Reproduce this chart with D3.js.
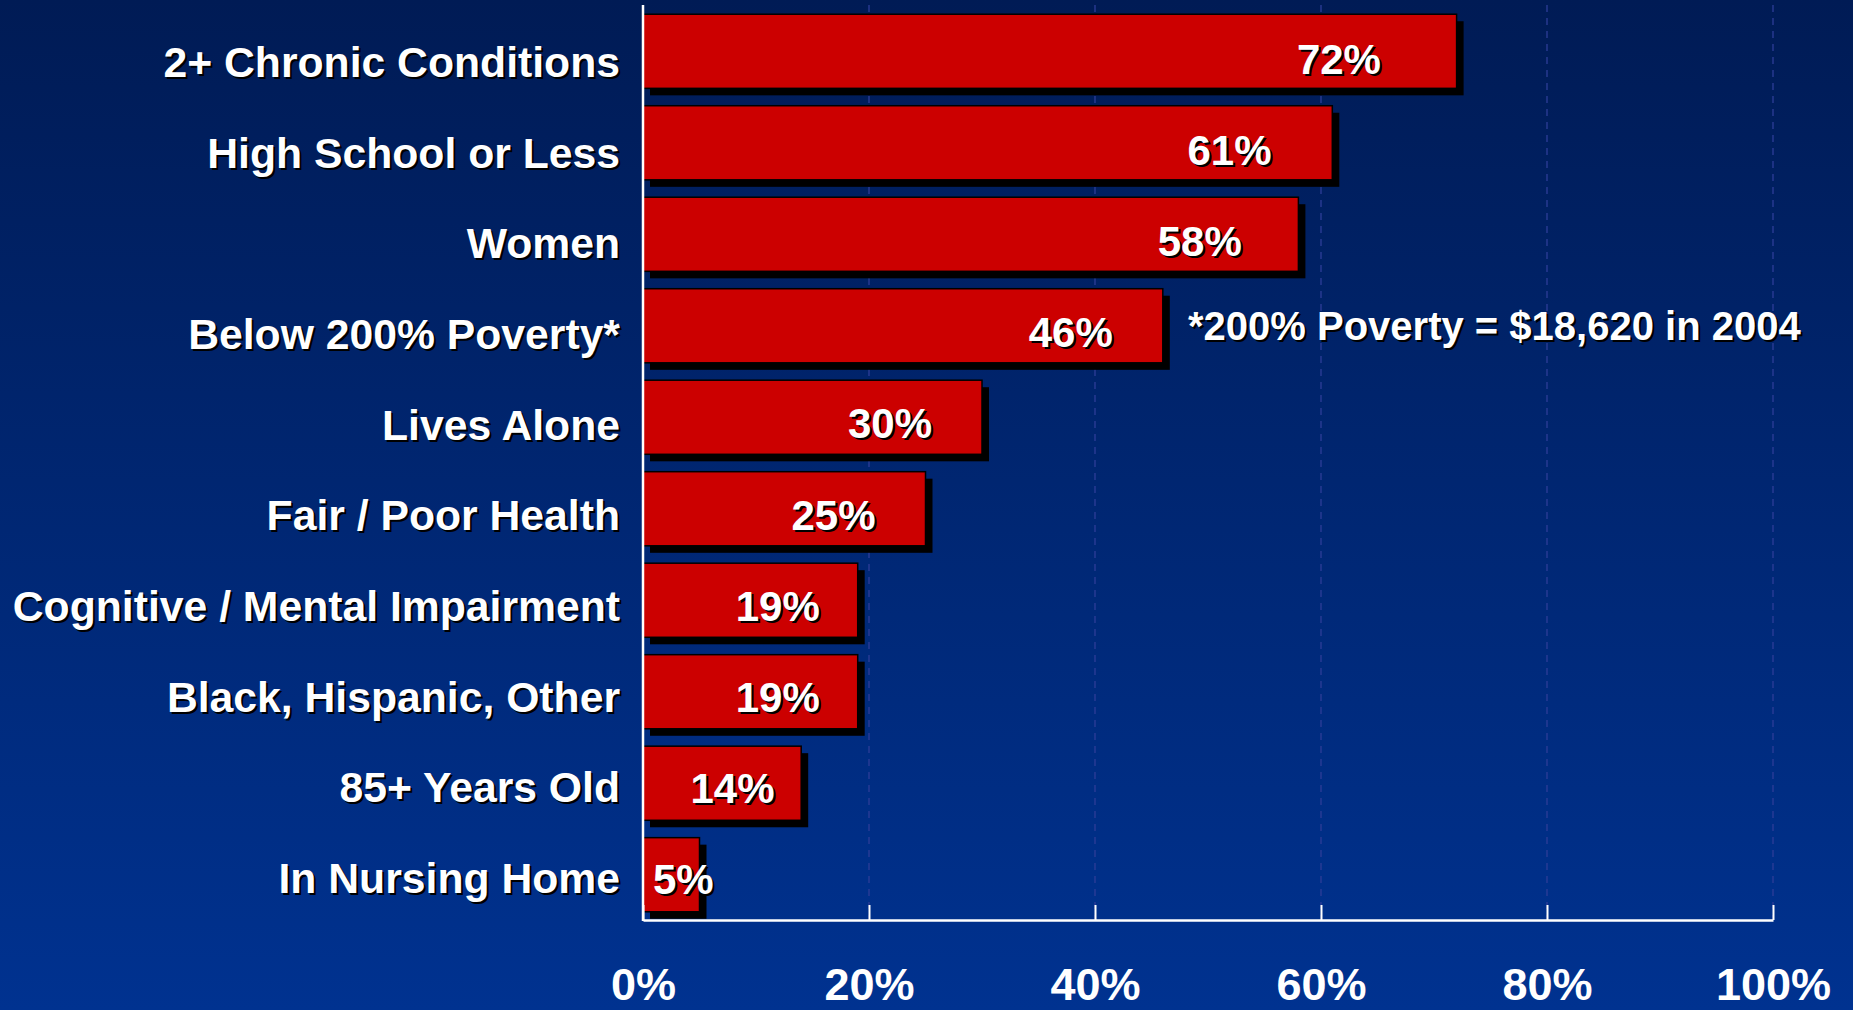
<!DOCTYPE html>
<html>
<head>
<meta charset="utf-8">
<script src="https://cdn.jsdelivr.net/npm/d3@7"></script>
<style>
  html, body { margin: 0; padding: 0; overflow: hidden; background: #00286f; }
  svg { display: block; }
  text { font-family: "Liberation Sans", Arial, sans-serif; font-weight: bold; }
</style>
</head>
<body>
<svg id="chart" width="1853" height="1010"></svg>
<script>
// ---- data ----
const categories = [
  "2+ Chronic Conditions",
  "High School or Less",
  "Women",
  "Below 200% Poverty*",
  "Lives Alone",
  "Fair / Poor Health",
  "Cognitive / Mental Impairment",
  "Black, Hispanic, Other",
  "85+ Years Old",
  "In Nursing Home"
];
const values = [72, 61, 58, 46, 30, 25, 19, 19, 14, 5];
const tickValues = [0, 20, 40, 60, 80, 100];
const tickLabels = ["0%", "20%", "40%", "60%", "80%", "100%"];
const noteText = "*200% Poverty = $18,620 in 2004";
const noteCategory = "Below 200% Poverty*";

// ---- layout ----
const W = 1853, H = 1010;
const svg = d3.select("#chart");

const defs = svg.append("defs");
const grad = defs.append("linearGradient").attr("id", "bg")
  .attr("x1", 0).attr("y1", 0).attr("x2", 0).attr("y2", 1);
grad.append("stop").attr("offset", "0%").attr("stop-color", "#001b55");
grad.append("stop").attr("offset", "100%").attr("stop-color", "#003290");
svg.append("rect").attr("width", W).attr("height", H).attr("fill", "url(#bg)");

const x = d3.scaleLinear().domain([0, 100]).range([643, 1773]);
const y = d3.scaleBand().domain(categories).range([6, 920])
  .paddingInner(0.19).paddingOuter(0.09);
// text rows sit on a slightly different pitch than the bars
const yLab = d3.scalePoint().domain(categories).range([62, 878]);
const yVal = d3.scalePoint().domain(categories).range([59, 879]);
const axisY = 920, topY = 5;

// gridlines
svg.append("g").selectAll("line")
  .data(tickValues.filter(d => d > 0))
  .join("line")
  .attr("x1", d => x(d)).attr("x2", d => x(d))
  .attr("y1", topY).attr("y2", axisY)
  .attr("stroke", "#2d3d98").attr("stroke-width", 1.3)
  .attr("stroke-dasharray", "7,6");

// bars: shadow + bar
const data = categories.map((c, i) => ({ c, v: values[i] }));
const gb = svg.append("g");
gb.selectAll("rect.sh").data(data).join("rect").attr("class", "sh")
  .attr("x", x(0) + 7).attr("y", d => y(d.c) + 7)
  .attr("width", d => x(d.v) - x(0)).attr("height", y.bandwidth())
  .attr("fill", "#000");
gb.selectAll("rect.bar").data(data).join("rect").attr("class", "bar")
  .attr("x", x(0)).attr("y", d => y(d.c))
  .attr("width", d => x(d.v) - x(0)).attr("height", y.bandwidth())
  .attr("fill", "#cc0000").attr("stroke", "#000").attr("stroke-width", 1.5);

// axes
const axis = d3.axisBottom(x).tickValues(tickValues)
  .tickFormat((d, i) => tickLabels[i]).tickSizeInner(-15).tickSizeOuter(0);
const ga = svg.append("g").attr("transform", `translate(0,${axisY})`).call(axis);
ga.select(".domain").attr("stroke", "#fff").attr("stroke-width", 2.5);
ga.selectAll(".tick line").attr("stroke", "#fff").attr("stroke-width", 2);
ga.selectAll(".tick text").attr("fill", "#fff").attr("font-size", 45)
  .attr("y", 80).attr("dy", 0)
  .style("font-family", '"Liberation Sans", Arial, sans-serif').style("font-weight", "bold");
svg.append("line").attr("x1", x(0)).attr("x2", x(0)).attr("y1", topY).attr("y2", axisY + 1)
  .attr("stroke", "#fff").attr("stroke-width", 2.5);

// category labels
const lg = svg.append("g");
const labFS = 42.7;
const labY = d => yLab(d.c) + 15;
lg.selectAll("text.ls").data(data).join("text").attr("class", "ls")
  .attr("x", 620 + 2).attr("y", d => labY(d) + 2)
  .attr("text-anchor", "end").attr("font-size", labFS).attr("fill", "#000")
  .text(d => d.c);
lg.selectAll("text.l").data(data).join("text").attr("class", "l")
  .attr("x", 620).attr("y", labY)
  .attr("text-anchor", "end").attr("font-size", labFS).attr("fill", "#fff")
  .text(d => d.c);

// value labels
const vg = svg.append("g");
const fmt = d => d + "%";
const probe = vg.append("text").attr("font-size", 42).text("0");
function labelPos(d) {
  probe.text(fmt(d.v));
  const tw = probe.node().getComputedTextLength();
  const w = x(d.v) - x(0);
  if (w < tw + 20) return { x: x(0) + 10, anchor: "start" };
  const gap = w >= 250 ? 50 + Math.max(0, w - 600) * 0.12 : w * 0.2 - 5;
  return { x: x(d.v) - gap, anchor: "end" };
}
const pos = data.map(labelPos);
probe.remove();
const valY = d => yVal(d.c) + 15;
vg.selectAll("text.vs").data(data).join("text").attr("class", "vs")
  .attr("x", (d, i) => pos[i].x + 2).attr("y", d => valY(d) + 2)
  .attr("text-anchor", (d, i) => pos[i].anchor).attr("font-size", 42).attr("fill", "#000")
  .text(d => fmt(d.v));
vg.selectAll("text.v").data(data).join("text").attr("class", "v")
  .attr("x", (d, i) => pos[i].x).attr("y", valY)
  .attr("text-anchor", (d, i) => pos[i].anchor).attr("font-size", 42).attr("fill", "#fff")
  .text(d => fmt(d.v));

// note
const noteY = y(noteCategory) + y.bandwidth() / 2 + 14;
svg.append("text").attr("x", 1188 + 2).attr("y", noteY + 2).attr("font-size", 40)
  .attr("fill", "#000").text(noteText);
svg.append("text").attr("x", 1188).attr("y", noteY).attr("font-size", 40)
  .attr("fill", "#fff").text(noteText);
</script>
</body>
</html>
